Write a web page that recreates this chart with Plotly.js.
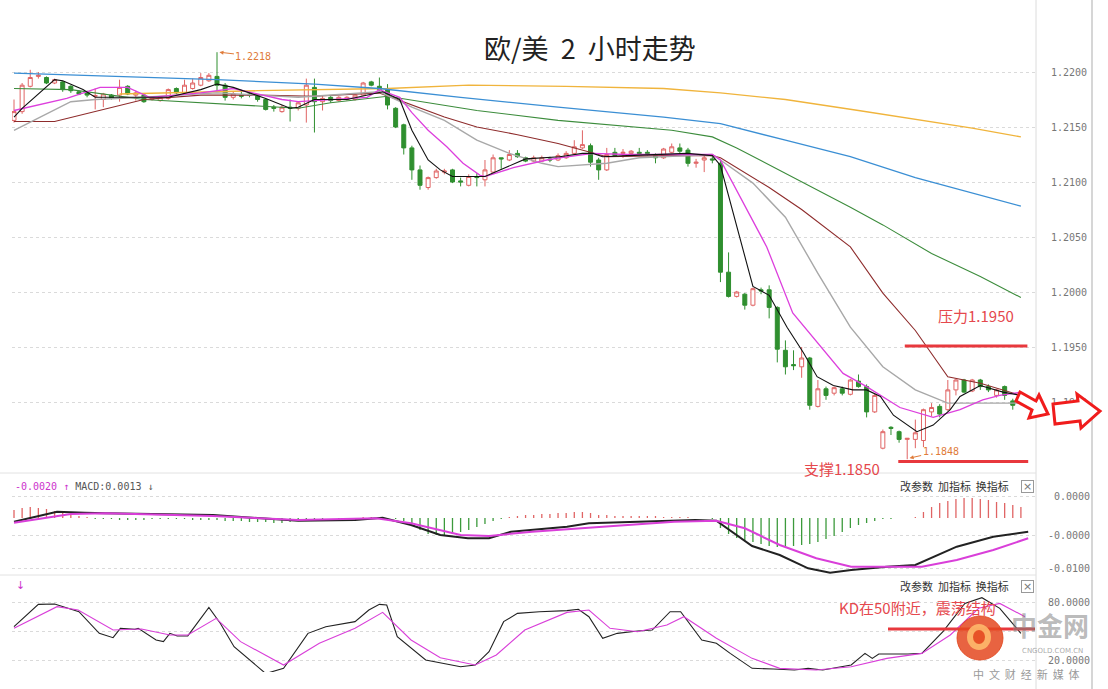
<!DOCTYPE html>
<html>
<head>
<meta charset="utf-8">
<script src="https://cdn.plot.ly/plotly-3.0.1.min.js"></script>
<style>html,body{margin:0;padding:0;background:#fff;}#chart{width:1108px;height:689px;}</style>
</head>
<body>
<div id="chart"></div>
<script>
// ---------- DATA (EUR/USD, 2-hour candles) ----------
const open = [1.2156,1.2164,1.2187,1.2196,1.2195,1.2190,1.2191,1.2187,1.2182,1.2181,
1.2178,1.2175,1.2179,1.2179,1.2187,1.2179,1.2179,1.2175,1.2174,1.2176,
1.2185,1.2181,1.2185,1.2188,1.2192,1.2196,1.2188,1.2177,1.2179,1.2180,
1.2179,1.2175,1.2168,1.2164,1.2168,1.2167,1.2170,1.2186,1.2173,1.2177,
1.2174,1.2175,1.2175,1.2179,1.2191,1.2187,1.2184,1.2167,1.2152,1.2131,
1.2111,1.2095,1.2104,1.2109,1.2111,1.2101,1.2097,1.2105,1.2102,1.2109,
1.2122,1.2120,1.2126,1.2122,1.2119,1.2119,1.2121,1.2120,1.2122,1.2126,
1.2131,1.2133,1.2120,1.2111,1.2127,1.2126,1.2126,1.2127,1.2127,1.2124,
1.2122,1.2127,1.2131,1.2129,1.2117,1.2120,1.2121,1.2117,1.2018,1.1996,
1.1998,1.1988,1.2002,1.2002,1.1986,1.1947,1.1934,1.1932,1.1940,1.1896,
1.1912,1.1908,1.1912,1.1907,1.1919,1.1914,1.1891,1.1858,1.1877,1.1873,
1.1866,1.1866,1.1865,1.1891,1.1896,1.1893,1.1911,1.1920,1.1910,1.1920,
1.1914,1.1906,1.1914,1.1901,1.1899];
const high = [1.2175,1.2190,1.2202,1.2200,1.2196,1.2194,1.2192,1.2188,1.2183,1.2183,
1.2185,1.2181,1.2180,1.2193,1.2188,1.2183,1.2180,1.2178,1.2178,1.2185,
1.2186,1.2193,1.2194,1.2199,1.2199,1.2218,1.2190,1.2182,1.2183,1.2182,
1.2180,1.2176,1.2170,1.2170,1.2175,1.2173,1.2194,1.2194,1.2179,1.2178,
1.2178,1.2178,1.2180,1.2191,1.2192,1.2195,1.2189,1.2168,1.2153,1.2133,
1.2115,1.2105,1.2112,1.2112,1.2112,1.2104,1.2107,1.2108,1.2120,1.2125,
1.2122,1.2129,1.2129,1.2123,1.2124,1.2124,1.2123,1.2126,1.2128,1.2138,
1.2147,1.2135,1.2122,1.2131,1.2131,1.2130,1.2129,1.2131,1.2129,1.2126,
1.2131,1.2135,1.2135,1.2131,1.2121,1.2124,1.2123,1.2120,1.2036,1.2001,
1.1999,1.2004,1.2004,1.2006,1.1987,1.1956,1.1947,1.1950,1.1941,1.1920,
1.1914,1.1914,1.1914,1.1921,1.1925,1.1916,1.1908,1.1875,1.1878,1.1874,
1.1867,1.1884,1.1894,1.1899,1.1898,1.1920,1.1921,1.1921,1.1921,1.1921,
1.1916,1.1912,1.1915,1.1903,1.1905];
const low = [1.2154,1.2162,1.2186,1.2194,1.2189,1.2189,1.2182,1.2181,1.2179,1.2177,
1.2166,1.2168,1.2175,1.2173,1.2179,1.2174,1.2172,1.2174,1.2173,1.2175,
1.2180,1.2180,1.2184,1.2187,1.2191,1.2182,1.2174,1.2175,1.2176,1.2177,
1.2173,1.2165,1.2164,1.2163,1.2155,1.2165,1.2154,1.2145,1.2165,1.2172,
1.2173,1.2174,1.2174,1.2178,1.2187,1.2183,1.2166,1.2149,1.2125,1.2102,
1.2093,1.2093,1.2103,1.2107,1.2099,1.2096,1.2096,1.2096,1.2096,1.2108,
1.2112,1.2119,1.2122,1.2118,1.2118,1.2118,1.2118,1.2119,1.2121,1.2125,
1.2130,1.2114,1.2102,1.2110,1.2123,1.2122,1.2124,1.2125,1.2124,1.2117,
1.2121,1.2126,1.2126,1.2114,1.2113,1.2109,1.2117,1.2009,1.1995,1.1995,
1.1984,1.1987,1.1998,1.1976,1.1936,1.1925,1.1929,1.1922,1.1893,1.1895,
1.1902,1.1906,1.1906,1.1906,1.1913,1.1886,1.1890,1.1857,1.1870,1.1863,
1.1848,1.1858,1.1859,1.1887,1.1886,1.1892,1.1906,1.1908,1.1909,1.1911,
1.1909,1.1904,1.1902,1.1893,1.1897];
const close = [1.2164,1.2188,1.2195,1.2197,1.2190,1.2193,1.2184,1.2183,1.2180,1.2179,
1.21785,1.2180,1.2176,1.2186,1.2180,1.2181,1.2173,1.2177,1.2177,1.2184,
1.2181,1.2188,1.2190,1.2195,1.2197,1.2188,1.2177,1.2180,1.2178,1.2179,
1.2175,1.2166,1.2167,1.2168,1.2167,1.2172,1.2188,1.2173,1.2176,1.2174,
1.2177,1.2177,1.2179,1.2190,1.2188,1.2184,1.2170,1.2150,1.2131,1.2111,
1.2097,1.2104,1.2110,1.2110,1.2100,1.2100,1.2105,1.2104,1.2111,1.2122,
1.2121,1.2125,1.2123,1.2119,1.2122,1.2122,1.2120,1.2124,1.2126,1.2132,
1.2134,1.2118,1.2111,1.2125,1.2124,1.2127,1.2128,1.2126,1.2126,1.2122,
1.2130,1.2132,1.2128,1.2117,1.2118,1.2122,1.2120,1.2018,1.1996,1.2000,
1.1988,1.2003,1.2001,1.1986,1.1948,1.1932,1.1933,1.1940,1.1897,1.1912,
1.1906,1.1913,1.1908,1.1920,1.1914,1.1891,1.1906,1.1873,1.1876,1.1866,
1.1867,1.1872,1.1893,1.1895,1.1889,1.1911,1.1920,1.1909,1.1920,1.1914,
1.1911,1.1911,1.1906,1.1897,1.1902];

// moving averages: [candle index, price]
const ma5 = [[0,1.2159],[1,1.2167],[5,1.2193],[6,1.2192],[8.5,1.2184],[10,1.2177],[12.7,1.2177],[16,1.2177],[19,1.2177],[23,1.2184],[25,1.2189],[27,1.2186],[31,1.2176],[34,1.2167],[35,1.2168],[37,1.2175],[41,1.2175],[45.4,1.2182],[47.5,1.2175],[49,1.2147],[51,1.2120],[52.5,1.2111],[54,1.2105],[58,1.2105],[60.7,1.2114],[63,1.2121],[67.2,1.2123],[70,1.2126],[71.3,1.2126],[72.5,1.2123],[75.5,1.2124],[79.6,1.2125],[82.9,1.2126],[86,1.2124],[87,1.2115],[91,1.2005],[93,1.1997],[95.2,1.1968],[97.2,1.1945],[98.9,1.1923],[100.9,1.1915],[103.3,1.1911],[105,1.1911],[106.7,1.1905],[108.3,1.1888],[111.2,1.1873],[113.2,1.1879],[115.3,1.1893],[116.5,1.1905],[119,1.1915],[121.8,1.1909],[124,1.1906]];
const ma10 = [[0,1.2165],[6.5,1.2176],[10.6,1.2186],[14,1.2186],[16.7,1.2177],[23,1.2181],[27,1.2185],[33,1.2175],[35,1.2173],[39,1.2175],[43.5,1.2177],[45,1.2184],[47.5,1.2177],[49,1.2163],[51,1.2147],[53.3,1.2132],[55.3,1.2117],[57.4,1.2106],[58,1.2105],[61.5,1.2113],[65.6,1.2120],[67.2,1.2122],[71.3,1.2126],[75.5,1.2125],[79.6,1.2125],[86,1.2125],[87,1.2120],[88.5,1.2099],[92.7,1.2041],[95.9,1.1981],[98.9,1.1954],[102.1,1.1926],[105,1.1914],[109.1,1.1895],[113.2,1.1886],[116.5,1.1893],[119.3,1.1902],[121.4,1.1906],[124,1.1909]];
const ma20 = [[0,1.2147],[7,1.2173],[10,1.2175],[16,1.2177],[25,1.2181],[35,1.2177],[45,1.2182],[49,1.2168],[53,1.2156],[57,1.2138],[61,1.2126],[65,1.2117],[67,1.2114],[73,1.2117],[77,1.2122],[86,1.2125],[87,1.2120],[91,1.2099],[95,1.2068],[99,1.2017],[103,1.1968],[107,1.1932],[111,1.1911],[115,1.1899],[119,1.1899],[124,1.1899]];
const ma30 = [[0,1.2155],[5,1.2155],[16,1.2175],[23,1.2179],[30,1.2179],[37,1.2178],[45,1.2181],[49,1.2170],[53,1.2159],[57,1.2150],[62,1.2143],[67,1.2135],[73,1.2123],[80,1.2124],[86,1.2124],[87,1.2122],[93,1.2095],[97,1.2075],[103,1.2041],[107,1.1999],[111,1.1965],[115,1.1923],[119,1.1917],[124,1.1906]];
const ma60 = [[0,1.2185],[7,1.2184],[16,1.2175],[27,1.2170],[35,1.2167],[39,1.2172],[46,1.2178],[57,1.2165],[67,1.2156],[81,1.2147],[86,1.2141],[89,1.2131],[95,1.2108],[103,1.2077],[107,1.2061],[113,1.2035],[119,1.2014],[124,1.1995]];
const ma120 = [[0,1.2199],[12,1.2196],[25,1.2193],[37,1.2189],[45,1.2185],[55,1.2177],[67,1.2168],[80,1.2159],[87,1.2153],[95,1.2138],[103,1.2123],[111,1.2104],[118,1.2090],[124,1.2078]];
const ma250 = [[13,1.2180],[30,1.2183],[46,1.2185],[56,1.2188],[68,1.2187],[80,1.2185],[87,1.2181],[95,1.2175],[104,1.2165],[112,1.2156],[118,1.2149],[124,1.2141]];

// MACD histogram (one per candle) and DIF / DEA lines [index, value]
const macdHist = [0.0008,0.0010,0.0011,0.0010,0.0009,0.0007,0.0005,0.0004,0.0002,0.0001,
-0.0001,-0.0001,-0.0001,-0.0002,-0.0002,-0.0002,-0.0002,-0.0001,-0.0001,-0.0001,
-0.0001,-0.0001,-0.0002,-0.0002,-0.0002,-0.0002,-0.0003,-0.0003,-0.0003,-0.0004,
-0.0004,-0.0004,-0.0005,-0.0005,-0.0004,-0.0003,-0.0002,-0.0001,-0.0001,0.0000,
-0.0001,-0.0001,0.0000,0.0001,0.0001,0.0001,0.0000,-0.0001,-0.0003,-0.0008,
-0.0012,-0.0016,-0.0017,-0.0017,-0.0016,-0.0014,-0.0012,-0.0009,-0.0006,-0.0003,
-0.0001,0.0001,0.0002,0.0003,0.0003,0.0004,0.0004,0.0005,0.0005,0.0006,
0.0006,0.0005,0.0003,0.0003,0.0002,0.0002,0.0002,0.0002,0.0002,0.0002,
0.0001,0.0001,0.0001,0.0001,0.0000,0.0000,-0.0001,-0.0010,-0.0016,-0.0020,
-0.0022,-0.0024,-0.0026,-0.0028,-0.0029,-0.0029,-0.0028,-0.0027,-0.0026,-0.0024,
-0.0021,-0.0018,-0.0014,-0.0010,-0.0007,-0.0005,-0.0003,-0.0001,-0.0001,0.0000,
0.0000,0.0001,0.0006,0.0011,0.0015,0.0017,0.0019,0.0020,0.0020,0.0019,
0.0018,0.0016,0.0015,0.0013,0.0011];
const dif = [[0,-0.00037],[5.3,0.00063],[8.7,0.00053],[11.3,0.00047],[24.5,0.0003],[33.3,-0.0002],[35,-0.00027],[42,-0.0002],[45.4,0.00003],[48.9,-0.0007],[52.5,-0.0017],[55.9,-0.00203],[58.5,-0.00203],[61.2,-0.00137],[68.1,-0.00087],[70.8,-0.00053],[76.8,-0.00037],[83.9,-0.0002],[86.5,-0.00027],[89.2,-0.00187],[90.9,-0.0028],[94.3,-0.0037],[97.8,-0.00503],[100.5,-0.00547],[103.1,-0.0052],[107.5,-0.00487],[111,-0.0047],[116.1,-0.00287],[120.6,-0.00187],[124.9,-0.00137]];
const dea = [[0,-0.00047],[7,0.0004],[11.3,0.00047],[24.5,0.0002],[35,-0.0002],[44.6,-0.00003],[48.9,-0.00053],[55,-0.0017],[58.5,-0.0018],[63.8,-0.00137],[72.5,-0.00087],[81.3,-0.00037],[86.5,-0.00027],[90,-0.00103],[94.3,-0.0027],[98.8,-0.00403],[103.1,-0.00487],[111.8,-0.00487],[116.1,-0.0042],[120.6,-0.0032],[124.9,-0.00203]];

// KD lines [index, value]
const kLine = [[0,54.5],[3,77.6],[5,78],[8,70],[10.5,47.6],[12.2,43.1],[13.1,52.8],[14.9,51.7],[15.3,52.8],[17.5,40.7],[18.4,39],[19.2,47.6],[20.1,44.9],[21.4,44.9],[24,74.5],[25.4,58],[27.1,33.8],[31,6],[33.2,11.4],[36.2,47.6],[38.4,54.5],[41.1,58],[42,59.7],[43.7,71.8],[45,77.6],[45.9,76.9],[47.2,44.2],[50.7,20],[55,13.1],[56.8,14.8],[58.5,28.6],[60.3,59.7],[62,68.3],[64.7,70],[68.1,71.1],[69.5,72.5],[70.8,64.8],[72.5,42.5],[74.3,47.6],[76.8,50.1],[78.6,51],[80.8,70],[82.1,70],[84.7,40.7],[86.5,37.3],[88.2,26.9],[90.9,11.4],[93.5,10.7],[96.1,9.7],[97.8,11.4],[99.6,9.7],[103.1,14.8],[104.8,26.9],[105.7,21.7],[106.5,26.2],[110.1,26.2],[111.8,26.9],[114.4,49.3],[117.1,78.6],[119.2,84.5],[121.4,73.5],[124,47.6]];
const dLine = [[0,52.8],[5.3,75.2],[7.9,71.8],[12.2,51],[15.7,52.1],[19.2,45.9],[21.4,45.9],[24.9,63.1],[27.9,39],[33.2,14.8],[37.6,37.3],[42,52.8],[45.4,69.3],[48.9,40.7],[52.5,22.4],[56.8,14.8],[59.4,25.2],[62.9,51],[68.1,69.3],[70.8,71.8],[73.4,52.8],[76.8,49.3],[80.4,56.2],[82.5,64.8],[86.5,42.5],[90.9,21.7],[94.3,11.4],[98.8,9.7],[103.1,13.1],[107.5,21.7],[111.8,26.9],[115.3,45.9],[118.8,73.5],[121.4,78.6],[124.5,64.8]];

const priceTicks = [1.19,1.195,1.20,1.205,1.21,1.215,1.22];
const priceTickText = ['1.1900','1.1950','1.2000','1.2050','1.2100','1.2150','1.2200'];
const macdTicks = [0.0022,-0.0017,-0.0050];
const macdTickText = ['\u00a00.0000','-0.0000','-0.0100'];
const kdTicks = [80,50,20];
const kdTickText = ['80.0000','','20.0000'];
const resistance = 1.1951, support = 1.1846;

// ---------- CHART ----------
const idx = open.map((_, i) => i);
const L = 12, R = 1036, T = 10, B = 672;
const px = x => (x - L) / (R - L);
const py = y => (B - y) / (B - T);

function ln(pairs, color, width, yaxis) {
  return {type:'scatter', mode:'lines', x:pairs.map(p=>p[0]), y:pairs.map(p=>p[1]),
    line:{color:color, width:width}, yaxis:yaxis||'y', hoverinfo:'skip'};
}

const traces = [
  {type:'candlestick', x:idx, open:open, high:high, low:low, close:close,
   increasing:{line:{color:'#e06464', width:1}, fillcolor:'#ffffff'},
   decreasing:{line:{color:'#2f8f2f', width:1}, fillcolor:'#2f8f2f'},
   whiskerwidth:0, hoverinfo:'skip'},
  ln(ma250,'#f0b43c',1.3), ln(ma120,'#3b8fd4',1.3), ln(ma60,'#3c8c3c',1.1),
  ln(ma30,'#8e2c2c',1.1), ln(ma20,'#a8a8a8',1.4), ln(ma10,'#dd3fdd',1.3), ln(ma5,'#111111',1.1),
  {type:'bar', x:idx, y:macdHist, yaxis:'y2', width:0.16,
   marker:{color:macdHist.map(v => v >= 0 ? '#e06464' : '#3c9a3c'), line:{width:0}}, hoverinfo:'skip'},
  ln(dif,'#222222',2,'y2'), ln(dea,'#d93fd9',2,'y2'),
  ln(kLine,'#222222',1.1,'y3'), ln(dLine,'#d93fd9',1.1,'y3')
];

const tf = {family:'DejaVu Sans Mono, monospace', size:10, color:'#777'};
const axCommon = {side:'right', showgrid:true, griddash:'dot', gridcolor:'#dadada', gridwidth:1,
  zeroline:false, ticks:'', showline:false, tickfont:tf, fixedrange:true};

const red = '#e8383d';
const cn = 'Noto Sans CJK SC, sans-serif';

function poly(points) {
  return 'M' + points.map(p => px(p[0]).toFixed(5) + ',' + py(p[1]).toFixed(5)).join(' L') + ' Z';
}

const shapes = [
  {type:'line', xref:'paper', yref:'paper', x0:px(1036), x1:px(1036), y0:py(0), y1:py(689), line:{color:'#dcdcdc', width:1}},
  {type:'line', xref:'paper', yref:'paper', x0:px(1092), x1:px(1092), y0:py(0), y1:py(689), line:{color:'#c8c8c8', width:1.5}},
  {type:'line', xref:'paper', yref:'paper', x0:px(0), x1:px(1036), y0:py(473), y1:py(473), line:{color:'#e2e2e2', width:1}},
  {type:'line', xref:'paper', yref:'paper', x0:px(0), x1:px(1036), y0:py(575), y1:py(575), line:{color:'#e2e2e2', width:1}},
  {type:'line', xref:'x', yref:'y', x0:109.7, x1:124.8, y0:resistance, y1:resistance, line:{color:red, width:3}},
  {type:'line', xref:'x', yref:'y', x0:108.9, x1:124.9, y0:support, y1:support, line:{color:red, width:3}},
  {type:'line', xref:'paper', yref:'paper', x0:px(888), x1:px(1035), y0:py(629), y1:py(629), line:{color:red, width:3}},
  {type:'path', xref:'paper', yref:'paper', path:poly([[1020,392],[1036,401],[1039,395],[1048,414],[1029,418],[1032,410],[1016,401]]), line:{color:'#f01c1c', width:3}, fillcolor:'#ffffff'},
  {type:'path', xref:'paper', yref:'paper', path:poly([[1053,404],[1078,401],[1077,394],[1100,411],[1081,428],[1080,421],[1055,424]]), line:{color:'#f01c1c', width:3}, fillcolor:'#ffffff'},
  {type:'circle', xref:'paper', yref:'paper', x0:px(957), x1:px(1003), y0:py(660), y1:py(616), line:{color:'rgba(225,70,30,0.85)', width:1}, fillcolor:'rgba(228,72,32,0.85)'},
  {type:'circle', xref:'paper', yref:'paper', x0:px(967), x1:px(991), y0:py(650), y1:py(624), line:{width:0}, fillcolor:'rgba(255,190,110,0.85)'},
  {type:'circle', xref:'paper', yref:'paper', x0:px(973), x1:px(985), y0:py(644), y1:py(630), line:{width:0}, fillcolor:'rgba(228,72,32,0.9)'}
];

function note(x, y, text, font, extra) {
  return Object.assign({xref:'paper', yref:'paper', x:px(x), y:py(y), text:text, showarrow:false,
    xanchor:'center', yanchor:'middle', font:font}, extra || {});
}

const annotations = [
  note(590, 47, '欧/美&nbsp;&nbsp;2&nbsp;&nbsp;小时走势', {family:cn, size:27, color:'#222'}),
  {xref:'x', yref:'y', x:25.3, y:1.2218, text:'1.2218', showarrow:true, arrowhead:2, arrowsize:0.8, arrowwidth:1,
   arrowcolor:'#e07b39', ax:34, ay:4, xanchor:'center', yanchor:'middle',
   font:{family:'DejaVu Sans Mono, monospace', size:10, color:'#e07b39'}},
  {xref:'x', yref:'y', x:110.3, y:1.1849, text:'1.1848', showarrow:true, arrowhead:2, arrowsize:0.8, arrowwidth:1,
   arrowcolor:'#e07b39', ax:31, ay:-7, xanchor:'center', yanchor:'middle',
   font:{family:'DejaVu Sans Mono, monospace', size:10, color:'#e07b39'}},
  note(976, 315, '压力1.1950', {family:cn, size:15, color:'#e5484d'}),
  note(842, 468, '支撑1.1850', {family:cn, size:15, color:'#e5484d'}),
  note(917, 607, 'KD在50附近，震荡结构', {family:cn, size:15, color:'#e5484d'}),
  note(13, 486, '<span style="color:#cc33cc">-0.0020 ↑</span> <span style="color:#555">MACD:0.0013 ↓</span>',
    {family:'DejaVu Sans Mono, monospace', size:10, color:'#555'}, {xanchor:'left'}),
  note(14, 585, '↓', {family:'DejaVu Sans, sans-serif', size:11, color:'#cc33cc'}, {xanchor:'left'}),
  note(1011, 486, '改参数&nbsp;&nbsp;加指标&nbsp;&nbsp;换指标', {family:cn, size:11, color:'#333'}, {xanchor:'right'}),
  note(1011, 586, '改参数&nbsp;&nbsp;加指标&nbsp;&nbsp;换指标', {family:cn, size:11, color:'#333'}, {xanchor:'right'}),
  note(1027.5, 486, '×', {family:'DejaVu Sans, sans-serif', size:11, color:'#777'},
    {bordercolor:'#999', borderwidth:1, borderpad:0, width:11, height:11}),
  note(1027.5, 586, '×', {family:'DejaVu Sans, sans-serif', size:11, color:'#777'},
    {bordercolor:'#999', borderwidth:1, borderpad:0, width:11, height:11}),
  note(1050, 624, '<b>中金网</b>', {family:cn, size:26, color:'rgba(130,130,130,0.55)'}),
  note(1052, 651, 'CNGOLD.COM.CN', {family:'DejaVu Sans, sans-serif', size:7, color:'rgba(110,110,110,0.6)'}),
  note(1026, 674, '中&nbsp;&nbsp;文&nbsp;&nbsp;财&nbsp;&nbsp;经&nbsp;&nbsp;新&nbsp;&nbsp;媒&nbsp;&nbsp;体', {family:cn, size:11, color:'#9a9a9a'})
];

const layout = {
  width:1108, height:689, margin:{l:L, r:1108-R, t:T, b:689-B},
  paper_bgcolor:'#ffffff', plot_bgcolor:'#ffffff', showlegend:false, hovermode:false,
  xaxis:{range:[-0.246,125.86], visible:false, rangeslider:{visible:false}, fixedrange:true},
  yaxis:Object.assign({}, axCommon, {domain:[py(472),1], range:[1.183636,1.225636],
    tickvals:priceTicks, ticktext:priceTickText, ticklabelstandoff:14}),
  yaxis2:Object.assign({}, axCommon, {domain:[py(575),py(478)], range:[-0.0057,0.0040],
    tickvals:macdTicks, ticktext:macdTickText, ticklabelstandoff:11}),
  yaxis3:Object.assign({}, axCommon, {domain:[0,py(580)], range:[7.6,102.8],
    tickvals:kdTicks, ticktext:kdTickText, ticklabelstandoff:11}),
  shapes:shapes, annotations:annotations
};

Plotly.newPlot('chart', traces, layout, {staticPlot:true, displayModeBar:false});
</script>
</body>
</html>
